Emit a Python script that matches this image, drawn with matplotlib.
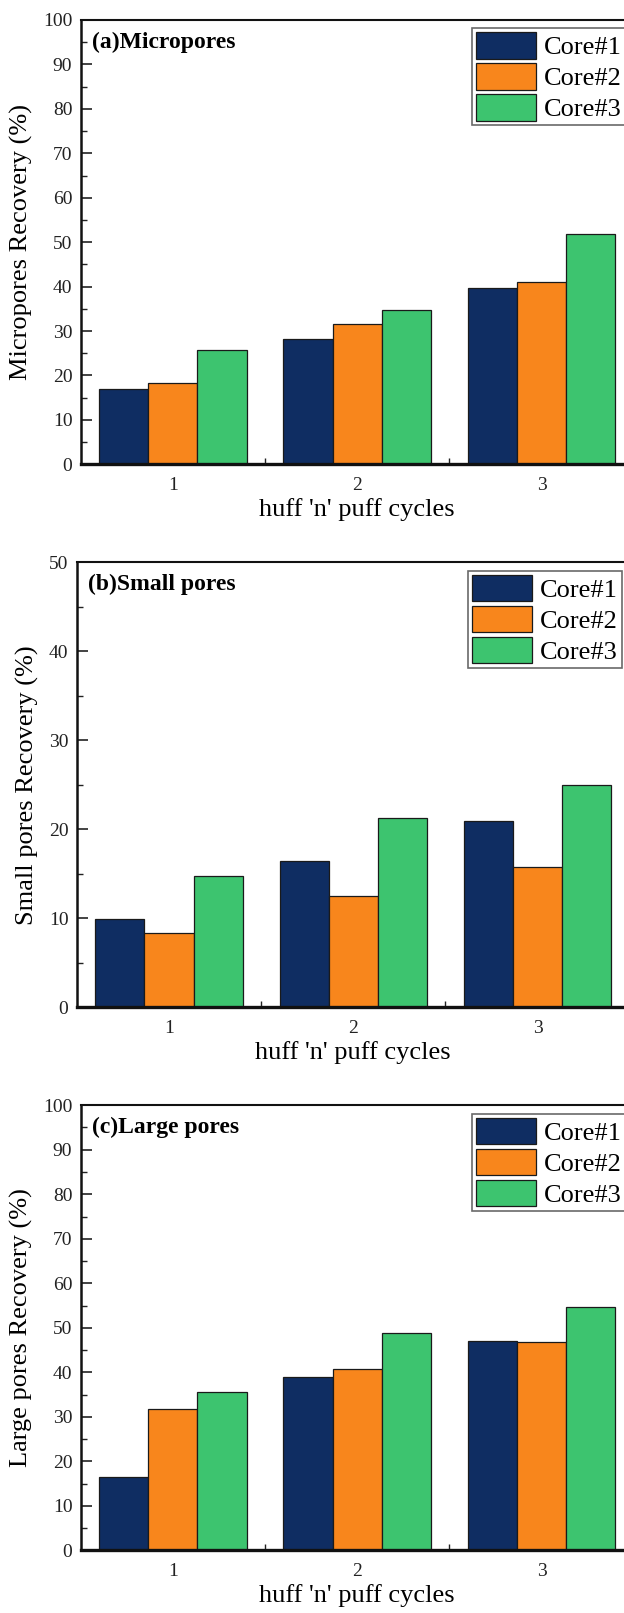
import matplotlib
matplotlib.use("Agg")
import matplotlib.pyplot as plt
import numpy as np
from matplotlib.ticker import MultipleLocator, FixedLocator

plt.rcParams['font.family'] = ['Liberation Serif', 'DejaVu Serif']
plt.rcParams['mathtext.fontset'] = 'stix'

cycles = [1, 2, 3]
cycle_labels = ['1', '2', '3']
series_names = ['Core#1', 'Core#2', 'Core#3']
colors = ['#0F2D62', '#F8861C', '#3DC46F']

micro_core1 = [16.9, 28.3, 39.7]
micro_core2 = [18.2, 31.5, 41.1]
micro_core3 = [25.7, 34.7, 51.8]

small_core1 = [9.9, 16.45, 20.9]
small_core2 = [8.3, 12.5, 15.8]
small_core3 = [14.8, 21.3, 25.0]

large_core1 = [16.5, 38.9, 47.1]
large_core2 = [31.7, 40.7, 46.7]
large_core3 = [35.6, 48.8, 54.6]

panels = [
    dict(title='(a)Micropores', ylabel='Micropores Recovery (%)', ymax=100,
         data=[micro_core1, micro_core2, micro_core3],
         pos=[80.7, 464.3, 444.3]),
    dict(title='(b)Small pores', ylabel='Small pores Recovery (%)', ymax=50,
         data=[small_core1, small_core2, small_core3],
         pos=[76.8, 1007.3, 444.9]),
    dict(title='(c)Large pores', ylabel='Large pores Recovery (%)', ymax=100,
         data=[large_core1, large_core2, large_core3],
         pos=[80.7, 1550.4, 445.2]),
]

W, H = 624, 1613
fig = plt.figure(figsize=(W / 100, H / 100), dpi=100)
serif = ['Liberation Serif', 'DejaVu Serif']

bw = 0.8 / 3
for p in panels:
    left, bottom_px, height = p['pos']
    ax = fig.add_axes([left / W, (H - bottom_px) / H, 553 / W, height / H])
    x = np.array(cycles, dtype=float)
    for i, (vals, name, col) in enumerate(zip(p['data'], series_names, colors)):
        ax.bar(x + (i - 1) * bw, vals, width=bw, color=col, edgecolor='#1a1a1a',
               linewidth=0.9, label=name, zorder=2)
    ax.set_xlim(0.5, 3.5)
    ax.set_ylim(0, p['ymax'])
    ax.set_xticks(cycles)
    ax.set_xticklabels(cycle_labels)
    ax.xaxis.set_minor_locator(FixedLocator([1.5, 2.5]))
    ax.yaxis.set_major_locator(MultipleLocator(10))
    ax.yaxis.set_minor_locator(MultipleLocator(5))
    ax.tick_params(axis='both', which='major', direction='in', length=8, width=1.2,
                   labelsize=14, colors='#222222')
    ax.tick_params(axis='both', which='minor', direction='in', length=4, width=1.0,
                   colors='#222222')
    ax.tick_params(axis='x', which='major', pad=9)
    ax.tick_params(axis='y', which='major', pad=6)
    ax.tick_params(top=False, right=False, which='both')
    for lbl in ax.get_xticklabels() + ax.get_yticklabels():
        lbl.set_family(serif)
    ax.spines['bottom'].set_linewidth(2.4)
    ax.spines['left'].set_linewidth(1.8)
    ax.spines['top'].set_linewidth(1.5)
    ax.spines['right'].set_visible(False)
    for s in ax.spines.values():
        s.set_color('#111111')
    ax.set_xlabel("huff 'n' puff cycles", fontsize=19, labelpad=3, family=serif)
    ax.set_ylabel(p['ylabel'], fontsize=19, labelpad=7, family=serif)
    ax.text(0.021, 0.974, p['title'], transform=ax.transAxes, fontsize=17,
            fontweight='bold', va='top', ha='left', family=serif)
    leg = ax.legend(loc='upper left', bbox_to_anchor=(0.707, 0.981),
                    prop={'family': serif, 'size': 19},
                    handlelength=2.3, handleheight=1.15, labelspacing=0.15,
                    handletextpad=0.3, borderpad=0.15, borderaxespad=0.0,
                    frameon=True, fancybox=False)
    leg.get_frame().set_edgecolor('#444444')
    leg.get_frame().set_linewidth(1.2)

fig.savefig('out.png', dpi=100)
